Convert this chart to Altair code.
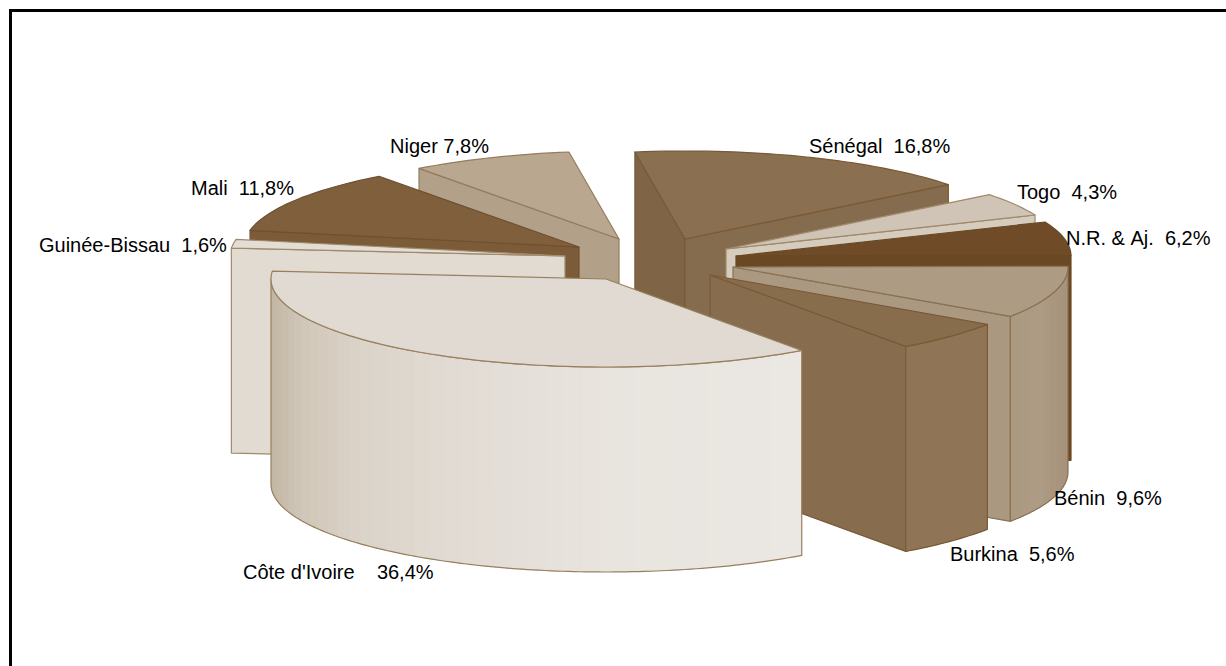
import math
import altair as alt
import numpy as np
import pandas as pd

# Shares of the pie, clockwise from the top
names = ["Sénégal", "Togo", "N.R. & Aj.", "Bénin", "Burkina", "Côte d'Ivoire", "Guinée-Bissau", "Mali", "Niger"]
shares = [16.8, 4.3, 6.2, 9.6, 5.6, 36.4, 1.6, 11.8, 7.8]
separators = ["  ", "  ", "  ", "  ", "  ", "    ", "  ", "  ", " "]

# Tilted-pie geometry, in pixels
RX, RY, DEPTH = 335.0, 88.0, 205.0
START_ANGLE = -98.6
apex_x = [685, 726, 736, 733, 710, 606, 565, 579, 619]
apex_y = [239, 249, 256, 267, 275, 279, 256, 247, 239]

top_colors = ["#8a6f50", "#cfc4b5", "#6f4c27", "#ae9b83", "#886d4d", "#e0dad2", "#e3ddd5", "#7f5f3c", "#b9a78f"]
left_face_colors = ["#7f6446", "#d3c9bb", "#6a4824", "#ab9880", "#876c4e", "#e0dad2", "#e1dbd2", "#7b5b38", "#b2a089"]
right_face_colors = ["#866c4e", "#d5ccbe", "#6a4824", "#ab9880", "#876c4e", "#e0dad2", "#e1dbd2", "#7b5b38", "#b2a089"]
edge_colors = ["#7a5a36", "#a08a6c", "#6a4824", "#8a7252", "#7a5a36", "#98805f", "#a08a6c", "#6f5030", "#947c5c"]

# Shading of the curved walls: stops along the screen x position
wall_shades = {
    "Côte d'Ivoire": ([270, 285, 300, 350, 450, 600, 800],
                      ["#c2b5a3", "#c9bdad", "#cfc5b7", "#dad2c7", "#e1dbd4", "#e8e4de", "#ebe7e2"]),
    "Bénin": ([1010, 1040, 1072], ["#ab9981", "#ad9b83", "#a5907a"]),
    "Burkina": ([905, 989], ["#8f7555", "#8f7555"]),
    "N.R. & Aj.": ([1060, 1072], ["#80603a", "#80603a"]),
}

# Back-to-front painting order
paint_order = ["Niger", "Mali", "Guinée-Bissau", "Sénégal", "Togo", "N.R. & Aj.", "Bénin", "Burkina", "Côte d'Ivoire"]

label_x = [809, 1017, 1066, 1054, 950, 243, 39, 191, 390]
label_y = [147, 193, 239, 499, 555, 573, 246, 189, 147]


def rgb(hex_color):
    return [int(hex_color[i:i + 2], 16) for i in (1, 3, 5)]


def shade_at(stops, x):
    xs, colours = stops
    channels = np.array([rgb(c) for c in colours]).T
    return "#%02x%02x%02x" % tuple(int(round(np.interp(x, xs, ch))) for ch in channels)


def feature(ring, fill, stroke, width):
    closed = [[float(a), float(b)] for a, b in ring] + [[float(ring[0][0]), float(ring[0][1])]]
    return {
        "type": "Feature",
        "geometry": {"type": "Polygon", "coordinates": [closed]},
        "properties": {"fill": fill, "stroke": stroke, "width": width},
    }


total = sum(shares)
angles = [START_ANGLE]
for share in shares:
    angles.append(angles[-1] + share / total * 360.0)

features = []
for name in paint_order:
    i = names.index(name)
    cx, cy = apex_x[i], apex_y[i]
    a0, a1 = angles[i], angles[i + 1]

    def rim(a, drop=0.0):
        t = math.radians(a)
        return (cx + RX * math.cos(t), cy + RY * math.sin(t) + drop)

    # Radial cut faces, only where they turn towards the viewer
    if math.cos(math.radians(a0)) < 0:
        p = rim(a0)
        features.append(feature([(cx, cy), p, (p[0], p[1] + DEPTH), (cx, cy + DEPTH)],
                                left_face_colors[i], edge_colors[i], 1.2))
    if math.cos(math.radians(a1)) > 0:
        p = rim(a1)
        features.append(feature([(cx, cy), p, (p[0], p[1] + DEPTH), (cx, cy + DEPTH)],
                                right_face_colors[i], edge_colors[i], 1.2))

    # Curved outer wall: each band runs on to the wall's far end and is painted
    # over by the next one, so no seams open between neighbours
    w0, w1 = max(a0, 0.0), min(a1, 180.0)
    if w1 > w0:
        steps = max(2, int((w1 - w0) / 3.0))
        grid = np.linspace(w0, w1, steps + 1)
        fine = np.linspace(w0, w1, max(3, int((w1 - w0) / 1.0)) + 1)
        for k in range(steps):
            pu, pv = rim(grid[k]), rim(grid[k + 1])
            colour = shade_at(wall_shades[name], (pu[0] + pv[0]) / 2)
            span = [grid[k]] + [a for a in fine if a > grid[k]]
            upper = [rim(a) for a in span]
            lower = [rim(a, DEPTH) for a in span[::-1]]
            features.append(feature(upper + lower, colour, "transparent", 0))
        upper = [rim(a) for a in fine]
        lower = [rim(a, DEPTH) for a in fine[::-1]]
        features.append(feature(upper + lower, "transparent", edge_colors[i], 1.2))

    # Top surface
    arc = [rim(a) for a in np.linspace(a0, a1, max(3, int((a1 - a0) / 1.5)))]
    features.append(feature([(cx, cy)] + arc, top_colors[i], edge_colors[i], 1.2))

slices = (
    alt.Chart(alt.Data(values=features))
    .mark_geoshape(strokeJoin="round")
    .encode(
        fill=alt.Fill("properties.fill:N", scale=None),
        stroke=alt.Stroke("properties.stroke:N", scale=None),
        strokeWidth=alt.StrokeWidth("properties.width:Q", scale=None),
    )
    .project(type="identity", scale=1, translate=[0, 0], reflectY=False)
)

label_table = pd.DataFrame({
    "label": [f"{n}{sep}{str(s).replace('.', ',')}%".replace(" ", "\u00a0") for n, sep, s in zip(names, separators, shares)],
    "x": label_x,
    "y": label_y,
})
labels = (
    alt.Chart(label_table)
    .mark_text(align="left", baseline="middle", font="Liberation Sans", fontSize=20, color="#000000")
    .encode(
        x=alt.X("x:Q", scale=None, axis=None),
        y=alt.Y("y:Q", scale=None, axis=None),
        text="label:N",
    )
)

# Black frame along the top and left edges only
frame_table = pd.DataFrame({"x0": [9, 10.5], "x1": [1226, 10.5], "y0": [10.5, 9], "y1": [10.5, 666]})
frame = (
    alt.Chart(frame_table)
    .mark_rule(color="#000000", strokeWidth=3)
    .encode(
        x=alt.X("x0:Q", scale=None, axis=None),
        x2="x1:Q",
        y=alt.Y("y0:Q", scale=None, axis=None),
        y2="y1:Q",
    )
)

chart = (
    alt.layer(slices, labels, frame)
    .properties(width=1226, height=666, padding=0, background="#ffffff",
                autosize=alt.AutoSizeParams(type="none"))
    .configure_view(stroke=None)
)
chart.save("out.html", embed_options={"renderer": "svg", "actions": False})
